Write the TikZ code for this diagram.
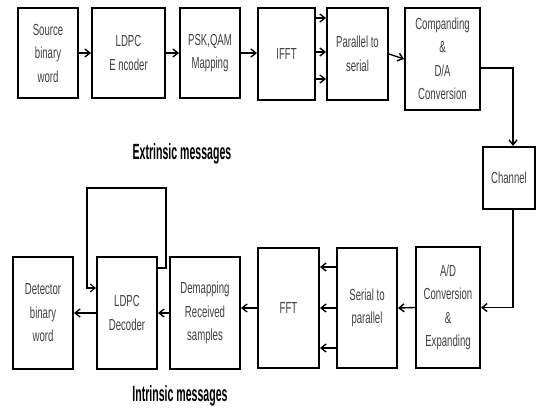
\documentclass[tikz,border=0pt]{standalone}
\usepackage{fontspec}
\setmainfont{Liberation Sans}[FakeStretch=0.6]
\newfontfamily\msgfont{Liberation Sans}[FakeStretch=0.48]
\usetikzlibrary{arrows.meta}

\tikzset{
    blockbox/.style={draw, line width=2pt, inner sep=0pt, align=center,
        font=\fontsize{16}{23.5}\selectfont, text=black!75},
    arr/.style={-{Straight Barb[length=5pt,width=8pt]}, line width=1.4pt},
    msg/.style={font=\msgfont\bfseries\fontsize{22}{24}\selectfont}
}

\begin{document}
\begin{tikzpicture}[x=1pt, y=-1pt]
    \useasboundingbox (0,0) rectangle (536,410);

    % Transmitter blocks
    \node[blockbox, minimum width=60pt, minimum height=90pt] (src) at (48,53) {Source\\binary\\word};
    \node[blockbox, minimum width=73pt, minimum height=90pt] (enc) at (128.5,53) {LDPC\\E ncoder};
    \node[blockbox, minimum width=60pt, minimum height=90pt] (map) at (210,53) {PSK,QAM\\Mapping};
    \node[blockbox, minimum width=57pt, minimum height=92pt] (ifft) at (286.5,54) {IFFT};
    \node[blockbox, minimum width=61pt, minimum height=92pt] (ps) at (357.5,54) {Parallel to\\serial};
    \node[blockbox, minimum width=75pt, minimum height=102pt] (comp) at (442.5,59) {Companding\\\&\\D/A\\Conversion};
    \node[blockbox, minimum width=52pt, minimum height=62pt] (chan) at (509,178) {Channel};

    % Receiver blocks
    \node[blockbox, minimum width=64pt, minimum height=121pt] (ad) at (448,307.5) {A/D\\Conversion\\\&\\Expanding};
    \node[blockbox, minimum width=60pt, minimum height=120pt] (sp) at (367,308) {Serial to\\parallel};
    \node[blockbox, minimum width=61pt, minimum height=120pt] (fft) at (288.5,308) {FFT};
    \node[blockbox, minimum width=70pt, minimum height=112pt] (dem) at (205,313) {Demapping\\Received\\samples};
    \node[blockbox, minimum width=60pt, minimum height=112pt] (dec) at (127,313) {LDPC\\Decoder};
    \node[blockbox, minimum width=60pt, minimum height=112pt] (det) at (43,313) {Detector\\binary\\word};

    % Labels
    \node[msg] (extr) at (182,154) {Extrinsic messages};
    \node[msg] (intr) at (180,396) {Intrinsic messages};

    % Transmitter connections
    \draw[arr] (src) -- (enc);
    \draw[arr] (enc) -- (map);
    \draw[arr] (map.east) -- (map.east -| ifft.west);
    \foreach \dy in {36,2,-25}
        \draw[arr] ([yshift=\dy pt]ifft.east) -- ([yshift=\dy pt]ps.west);
    \draw[arr] (ps.east) -- (comp.west);
    \draw[arr] ([yshift=-9pt]comp.east) -| ([xshift=4pt]chan.north);
    \draw[arr] ([xshift=4pt]chan.south) |- (ad.east);

    % Receiver connections
    \draw[arr] (ad.west) -- (sp.east);
    \foreach \dy in {41,0,-40}
        \draw[arr] ([yshift=\dy pt]sp.west) -- ([yshift=\dy pt]fft.east);
    \draw[arr] (fft.west) -- (fft.west -| dem.east);
    \draw[arr] (dem) -- (dec);
    \draw[arr] (dec) -- (det);

    % Feedback loop
    \coordinate (loopR) at (166,188);
    \coordinate (loopL) at (87,188);
    \draw[arr, line width=1.1pt] ([yshift=45pt]dec.east) -| (loopR) -- (loopL) |- ([yshift=25pt]dec.west);
\end{tikzpicture}
\end{document}
